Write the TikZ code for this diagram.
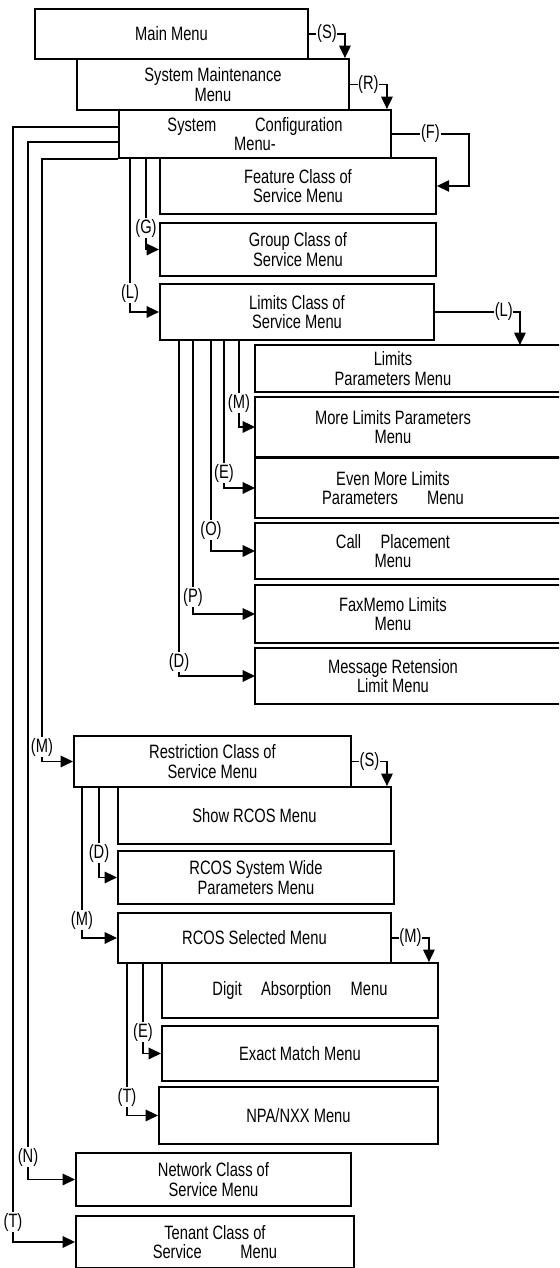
\documentclass[tikz,border=0pt]{standalone}
\usepackage{fontspec}
\newfontfamily\menufont{Liberation Sans}[FakeStretch=0.76]
\usetikzlibrary{arrows.meta}

\tikzset{
  menu/.style 2 args={draw, line width=1.1pt, anchor=north west, align=center,
    minimum width=#1*0.02cm, minimum height=#2*0.02cm, inner sep=1pt,
    font=\menufont\fontsize{11}{11.2}\selectfont},
  openmenu/.style={menu={274}{#1}, draw=none},
  boxline/.style={line width=1.1pt},
  link/.style={line width=0.9pt, -{Triangle[length=7pt,width=6.5pt]}},
  key/.style={fill=white, inner sep=0.4pt, font=\menufont\fontsize{11}{11}\selectfont}
}

\begin{document}
\begin{tikzpicture}[x=0.02cm, y=-0.02cm]
  \useasboundingbox (0,0) rectangle (559,1268);
  \clip (0,0) rectangle (559,1268);

  % system menus
  \node[menu={273}{50}] (main) at (34,8) {Main Menu};
  \node[menu={272}{51}] (sysm) at (76,58) {System Maintenance\\Menu};
  \node[menu={272}{48}] (sysc) at (118,109) {System\hspace{2em}Configuration\\Menu-};

  % class of service menus
  \node[menu={276}{56}] (feature) at (159,157) {Feature Class of\\Service Menu};
  \node[menu={276}{53}] (group) at (159,222) {Group Class of\\Service Menu};
  \node[menu={274}{56}] (limits) at (159,283) {Limits Class of\\Service Menu};

  % limits sub menus (open to the right)
  \node[openmenu=45] (lpar) at (255,345) {Limits\\Parameters Menu};
  \node[openmenu=58] (mlpar) at (255,397) {More Limits Parameters\\Menu};
  \node[openmenu=58] (emlpar) at (255,458) {Even More Limits\\Parameters\hspace{1.5em}Menu};
  \node[openmenu=54] (callp) at (255,523) {Call\hspace{1em}Placement\\Menu};
  \node[openmenu=56] (faxm) at (255,585) {FaxMemo Limits\\Menu};
  \node[openmenu=54] (msgr) at (255,648) {Message Retension\\Limit Menu};
  \foreach \n in {lpar,mlpar,emlpar,callp,faxm,msgr}
    \draw[boxline] (\n.north east) ++(40,0) -| (\n.south west) -- ++(320,0);

  % restriction menus
  \node[menu={277}{51}] (restr) at (73,735) {Restriction Class of\\Service Menu};
  \node[menu={273}{57}] (show) at (117,786) {Show RCOS Menu};
  \node[menu={276}{53}] (rsys) at (117,850) {RCOS System Wide\\Parameters Menu};
  \node[menu={273}{50}] (rsel) at (117,912) {RCOS Selected Menu};
  \node[menu={276}{55}] (digit) at (161,962) {Digit\hspace{1em}Absorption\hspace{1em}Menu};
  \node[menu={276}{55}] (exact) at (161,1025) {Exact Match Menu};
  \node[menu={279}{57}] (npa) at (158,1086) {NPA/NXX Menu};

  \node[menu={275}{53}] (network) at (75,1152) {Network Class of\\Service Menu};
  \node[menu={278}{52}] (tenant) at (75,1215) {Tenant Class of\\Service\hspace{2em}Menu};

  % right hand steps
  \draw[link] (main.east) -- node[key] {(S)} ++(36,0) coordinate (s1) -- (s1 |- sysm.north);
  \draw[link] (sysm.east) -- node[key] {(R)} ++(37,0) coordinate (r1) -- (r1 |- sysc.north);
  \draw[link] (sysc.east) -- node[key] {(F)} ++(77,0) |- (feature.east);
  \draw[link] (limits.east) -- node[key, pos=0.81] {(L)} ++(85,0) coordinate (l1) -- (l1 |- lpar.north);
  \draw[link] (restr.east) -- node[key] {(S)} ++(35,0) coordinate (s2) -- (s2 |- show.north);
  \draw[link] (rsel.east) -- node[key] {(M)} ++(37,0) coordinate (m2) -- (m2 |- digit.north);

  % left hand branches
  \draw[link] (sysc.west |- 0,127) -| (13,1222) node[key] {(T)} |- (tenant.west);
  \draw[link] (sysc.west |- 0,142) -| (28,1157) node[key] {(N)} |- (network.west);
  \draw[link] (sysc.south west) -| (42,747) node[key] {(M)} |- (restr.west);
  \draw[link] (sysc.south -| 146,0) -- (146,228) node[key] {(G)} |- (group.west);
  \draw[link] (sysc.south -| 130,0) -- (130,293) node[key] {(L)} |- (limits.west);

  \draw[link] (limits.south -| 239,0) -- (239,403) node[key] {(M)} |- (mlpar.west);
  \draw[link] (limits.south -| 224,0) -- (224,473) node[key] {(E)} |- (emlpar.west);
  \draw[link] (limits.south -| 211,0) -- (211,530) node[key] {(O)} |- (callp.west);
  \draw[link] (limits.south -| 193,0) -- (193,597) node[key] {(P)} |- (faxm.west);
  \draw[link] (limits.south -| 179,0) -- (179,662) node[key] {(D)} |- (msgr.west);

  \draw[link] (restr.south -| 99,0) -- (99,853) node[key] {(D)} |- (rsys.west);
  \draw[link] (restr.south -| 82,0) -- (82,920) node[key] {(M)} |- (rsel.west);
  \draw[link] (rsel.south -| 143,0) -- (143,1032) node[key] {(E)} |- (exact.west);
  \draw[link] (rsel.south -| 127,0) -- (127,1097) node[key] {(T)} |- (npa.west);
\end{tikzpicture}
\end{document}
